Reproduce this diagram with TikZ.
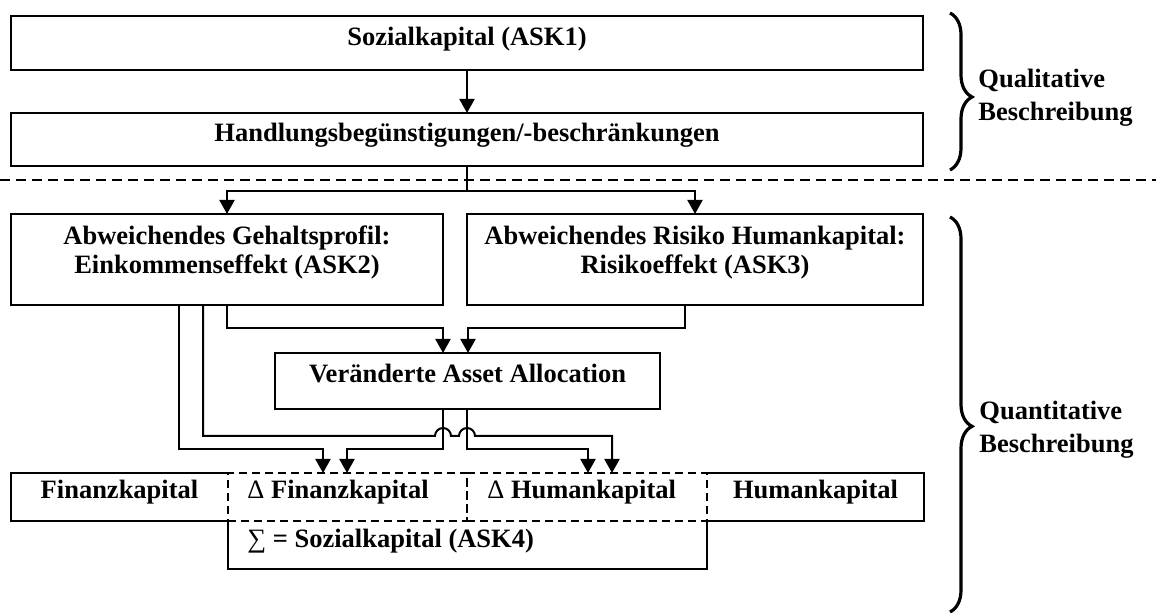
\documentclass[tikz,border=0pt]{standalone}
\usepackage{fontspec}
\setmainfont{Liberation Serif}
\usetikzlibrary{arrows.meta,decorations.pathreplacing,calc}
\begin{document}
\begin{tikzpicture}[x=0.5pt,y=-0.5pt,
  font=\fontsize{13.25pt}{16pt}\selectfont\bfseries,
  box/.style={draw,line width=1pt,rectangle,inner sep=0,outer sep=0,anchor=north west},
  nobox/.style={rectangle,inner sep=0,outer sep=0,anchor=north west},
  dbox/.style={box,dash pattern=on 4pt off 2.5pt},
  txt/.style={inner sep=0,anchor=base},
  ltxt/.style={inner sep=0,anchor=base west},
  conn/.style={line width=1pt},
  arr/.style={conn,-{Triangle[length=7pt,width=7.5pt]}},
  brc/.style={decorate,line width=1.6pt},
  sepline/.style={line width=1pt,dash pattern=on 5pt off 3pt},
]
\useasboundingbox (0,0) rectangle (1156,613);

% boxes
\node[box, minimum width=456pt, minimum height=27pt] (b1) at (11,16) {};
\node[box, minimum width=456pt, minimum height=26.5pt] (b2) at (11,113) {};
\node[box, minimum width=216pt, minimum height=45.5pt] (ask2) at (11,214) {};
\node[box, minimum width=228pt, minimum height=45.5pt] (ask3) at (467,214) {};
\node[box, minimum width=192.5pt, minimum height=28pt] (va) at (275,353) {};
\node[nobox, minimum width=108.5pt, minimum height=24pt] (fk) at (11,473) {};
\node[dbox, minimum width=119.5pt, minimum height=24pt] (dfk) at (228,473) {};
\node[dbox, minimum width=120pt, minimum height=24pt] (dhk) at (467,473) {};
\node[nobox, minimum width=108.5pt, minimum height=24pt] (hk) at (707,473) {};
\node[nobox, minimum width=239.5pt, minimum height=24pt] (sk) at (228,521) {};
\draw[conn] (fk.north east) -- (fk.north west) -- (fk.south west) -- (fk.south east);
\draw[conn] (hk.north west) -- (hk.north east) -- (hk.south east) -- (hk.south west);
\draw[conn] (sk.north west) -- (sk.south west) -- (sk.south east) -- (sk.north east);

% texts
\node[txt] (t1) at (467,46) {Sozialkapital (ASK1)};
\node[txt] (t2) at (467,142) {Handlungsbegünstigungen/-beschränkungen};
\node[txt] (t3a) at (227,245) {Abweichendes Gehaltsprofil:};
\node[txt] (t3b) at (227,274) {Einkommenseffekt (ASK2)};
\node[txt] (t4a) at (695,245) {Abweichendes Risiko Humankapital:};
\node[txt] (t4b) at (695,274) {Risikoeffekt (ASK3)};
\node[txt] (t5) at (467.5,383) {Veränderte Asset Allocation};
\node[txt] (t6) at (119.5,499) {Finanzkapital};
\node[ltxt] (t7) at (247,499) {{\mdseries Δ} Finanzkapital};
\node[ltxt] (t8) at (487,499) {{\mdseries Δ} Humankapital};
\node[txt] (t9) at (815.5,499) {Humankapital};
\node[ltxt] (t10) at (247,548) {{\mdseries ∑} = Sozialkapital (ASK4)};
\node[ltxt] (q1) at (978,88) {Qualitative};
\node[ltxt] (q2) at (978,121) {Beschreibung};
\node[ltxt] (q3) at (979,420) {Quantitative};
\node[ltxt] (q4) at (979,453) {Beschreibung};

% separator
\coordinate (s1) at (0,180);
\coordinate (s2) at (1156,180);
\draw[sepline] (s1) -- (s2);

% connectors
\draw[arr] (b1.south) -- (b2.north);
\coordinate (j1) at (467,191);
\draw[conn] (b2.south) -- (j1);
\draw[arr] (j1) -| (ask2.north);
\draw[arr] (j1) -| (ask3.north);

\coordinate (va1) at (443,353);
\coordinate (va2) at (468,353);
\coordinate (yA) at (0,328);
\draw[arr] (ask2.south) |- (yA -| va1) -- (va1);
\coordinate (d3) at (685,305);
\draw[arr] (d3) |- (yA -| va2) -- (va2);

\coordinate (d2a) at (179,305);
\coordinate (d2b) at (203,305);
\coordinate (vb1) at (443,409);
\coordinate (vb2) at (467,409);
\coordinate (yB) at (0,449);
\coordinate (h1) at (435,436);
\coordinate (h2) at (459,436);
\coordinate (e1) at (323,473);
\coordinate (e2) at (347,473);
\coordinate (e3) at (588,473);
\coordinate (e4) at (612,473);
\draw[arr] (d2a) |- (yB -| e1) -- (e1);
\draw[arr] (vb1) |- (yB -| e2) -- (e2);
\draw[arr] (vb2) |- (yB -| e3) -- (e3);
\draw[arr] (d2b) |- (h1) arc[start angle=180,end angle=0,radius=4pt] -- (h2) arc[start angle=180,end angle=0,radius=4pt] -| (e4);

% braces
\coordinate (qa) at (950,13);
\coordinate (qb) at (950,170);
\coordinate (qc) at (950,217);
\coordinate (qd) at (950,612);
\draw[brc, decoration={brace,amplitude=11pt,aspect=0.535}] (qa) -- (qb);
\draw[brc, decoration={brace,amplitude=11pt,aspect=0.53}] (qc) -- (qd);
\end{tikzpicture}
\end{document}
